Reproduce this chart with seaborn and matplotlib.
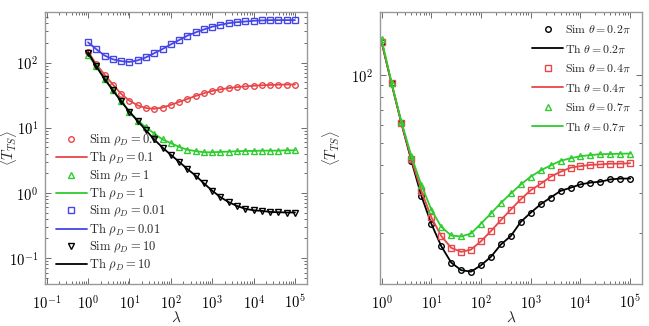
import numpy as np
import seaborn as sns
import matplotlib.pyplot as plt
from matplotlib.ticker import LogLocator, NullFormatter, FuncFormatter

# lambda values (0.2 decade steps from 1 to 1e5)
lam = [1, 1.585, 2.512, 3.981, 6.31, 10, 15.85, 25.12, 39.81, 63.1,
       100, 158.5, 251.2, 398.1, 631, 1000, 1585, 2512, 3981, 6310,
       1e4, 1.585e4, 2.512e4, 3.981e4, 6.31e4, 1e5]

# left panel: <T_TS> for different rho_D
rho_01 = [147, 94, 65, 46, 33, 26, 22, 20, 19.5, 20.4, 22.4, 24.9, 27.6,
          30.7, 33.7, 36.6, 38.8, 40.6, 42, 43, 44, 44.8, 45.3, 45.6, 46, 46]
rho_1 = [131, 87, 56, 37.5, 25.5, 17.7, 12.7, 10.2, 8.1, 6.6, 5.8, 5.07,
         4.6, 4.37, 4.2, 4.2, 4.25, 4.3, 4.35, 4.4, 4.4, 4.45, 4.45, 4.45,
         4.5, 4.5]
rho_001 = [204, 160, 128, 112, 105, 102, 108, 120, 139, 161, 190, 221, 258,
           290, 322, 354, 379, 402, 416, 426, 437, 442, 447, 447, 447, 447]
rho_10 = [142, 87, 56, 37.5, 25.5, 17.5, 12.7, 9.1, 6.6, 4.95, 3.84, 3.0,
          2.32, 1.84, 1.40, 1.08, 0.86, 0.72, 0.63, 0.57, 0.54, 0.53, 0.51,
          0.505, 0.50, 0.50]

# right panel: <T_TS> for different theta
th_02 = [140, 91.6, 61, 41.7, 29.2, 22, 17.5, 14.8, 13.7, 13.5, 14.4, 15.7,
         17.8, 19.4, 22.4, 24.6, 26.8, 28.7, 30.7, 31.7, 32.8, 33.4, 33.7,
         34.5, 34.8, 34.8]
th_04 = [140, 92, 61, 42.4, 30.7, 23.5, 19.4, 17.2, 16.5, 16.9, 18.4, 20.4,
         22.8, 25.4, 28.2, 30.9, 33, 35.5, 37.3, 38.9, 39.5, 40, 40.2, 40.5,
         40.5, 40.7]
th_07 = [144, 92.5, 62, 43.7, 32.6, 25.4, 21.3, 19.5, 19.3, 19.9, 22, 24.4,
         27.2, 29.9, 32.8, 35.5, 37.8, 39.8, 41.7, 42.8, 43.7, 44.2, 44.6,
         44.7, 44.8, 44.9]

# decade ticks shown on each axis
left_xticks = [1e-1, 1, 10, 100, 1e3, 1e4, 1e5]
left_yticks = [1e-1, 1, 10, 100]
right_xticks = [1, 10, 100, 1e3, 1e4, 1e5]
right_yticks = [100]

red = '#e8474a'
green = '#2ecc2e'
blue = '#4646e6'
black = '#000000'

sns.set_style('white')
plt.rcParams['font.family'] = ['DejaVu Serif']
plt.rcParams['mathtext.fontset'] = 'cm'

fig = plt.figure(figsize=(6.49, 3.26), dpi=100)
ax1 = fig.add_axes([0.0693, 0.1288, 0.4037, 0.835])
ax2 = fig.add_axes([0.5855, 0.1288, 0.4032, 0.835])


def sim_th(ax, y, col, mk, sim_lab, th_lab):
    sns.lineplot(x=lam, y=y, ax=ax, color=col, marker=mk, linestyle='',
                 markerfacecolor='none', markeredgecolor=col, markersize=4,
                 markeredgewidth=1.0, label=sim_lab)
    sns.lineplot(x=lam, y=y, ax=ax, color=col, linewidth=1.3, label=th_lab)


sim_th(ax1, rho_01, red, 'o', r'$\mathrm{Sim}\ \rho_D = 0.1$', r'$\mathrm{Th}\ \rho_D = 0.1$')
sim_th(ax1, rho_1, green, '^', r'$\mathrm{Sim}\ \rho_D = 1$', r'$\mathrm{Th}\ \rho_D = 1$')
sim_th(ax1, rho_001, blue, 's', r'$\mathrm{Sim}\ \rho_D = 0.01$', r'$\mathrm{Th}\ \rho_D = 0.01$')
sim_th(ax1, rho_10, black, 'v', r'$\mathrm{Sim}\ \rho_D = 10$', r'$\mathrm{Th}\ \rho_D = 10$')

sim_th(ax2, th_02, black, 'o', r'$\mathrm{Sim}\ \theta = 0.2\pi$', r'$\mathrm{Th}\ \theta = 0.2\pi$')
sim_th(ax2, th_04, red, 's', r'$\mathrm{Sim}\ \theta = 0.4\pi$', r'$\mathrm{Th}\ \theta = 0.4\pi$')
sim_th(ax2, th_07, green, '^', r'$\mathrm{Sim}\ \theta = 0.7\pi$', r'$\mathrm{Th}\ \theta = 0.7\pi$')

pow10 = FuncFormatter(lambda v, p: r'$10^{%d}$' % round(np.log10(v)))

for ax, xt, yt in ((ax1, left_xticks, left_yticks), (ax2, right_xticks, right_yticks)):
    ax.set_xscale('log')
    ax.set_yscale('log')
    ax.set_xlabel(r'$\lambda$', fontsize=11, labelpad=-1)
    ax.set_ylabel(r'$\langle T_{TS}\rangle$', fontsize=10.5)
    ax.tick_params(which='both', direction='in', top=True, right=True,
                   bottom=True, left=True,
                   colors='#555555', labelcolor='black', labelsize=10.5)
    ax.tick_params(which='major', length=4, width=0.6)
    ax.tick_params(which='minor', length=2, width=0.6)
    ax.tick_params(axis='x', pad=7)
    ax.tick_params(axis='y', pad=5)
    ax.set_xticks(xt)
    ax.set_yticks(yt)
    ax.xaxis.set_minor_locator(LogLocator(base=10, subs=np.arange(2, 10), numticks=20))
    ax.xaxis.set_major_formatter(pow10)
    ax.xaxis.set_minor_formatter(NullFormatter())
    ax.yaxis.set_minor_locator(LogLocator(base=10, subs=np.arange(2, 10), numticks=20))
    ax.yaxis.set_major_formatter(pow10)
    ax.yaxis.set_minor_formatter(NullFormatter())
    for s in ax.spines.values():
        s.set_color('#999999')
        s.set_linewidth(1.0)

ax1.set_xlim(0.091, 1.95e5)
ax1.set_ylim(0.04, 600)
ax1.yaxis.set_label_coords(-0.1, 0.5)
ax1.legend(loc='lower left', bbox_to_anchor=(0.0, 0.0), frameon=False,
           fontsize=9, handlelength=2.5, handletextpad=0.15,
           labelspacing=0.16, borderaxespad=0.45)

ax2.set_xlim(0.93, 1.7e5)
ax2.set_ylim(11.9, 190)
ax2.yaxis.set_label_coords(-0.145, 0.5)
ax2.legend(loc='upper right', frameon=False, fontsize=8.5, handlelength=2.6,
           handletextpad=0.15, labelspacing=0.55, borderaxespad=0.55)

fig.savefig('out.png', dpi=100)
